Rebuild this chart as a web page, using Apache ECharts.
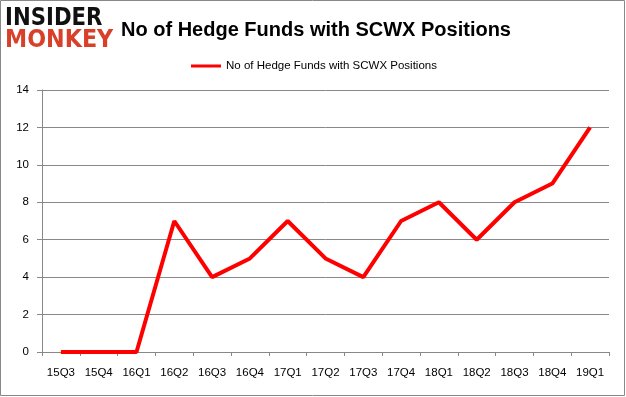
<!DOCTYPE html>
<html><head><meta charset="utf-8">
<script src="https://cdn.jsdelivr.net/npm/echarts@6/dist/echarts.min.js"></script>
<style>html,body{margin:0;padding:0;background:#fff}#c{width:626px;height:397px}</style>
</head><body><div id="c"></div>
<script>
const categories = ['15Q3','15Q4','16Q1','16Q2','16Q3','16Q4','17Q1','17Q2','17Q3','17Q4','18Q1','18Q2','18Q3','18Q4','19Q1'];
const hedgeFunds = [0,0,0,7,4,5,7,5,4,7,8,6,8,9,12];
const seriesName = 'No of Hedge Funds with SCWX Positions';
const titleText = 'No of Hedge Funds with SCWX Positions';

const chart = echarts.init(document.getElementById('c'), null, {renderer:'canvas'});
const font = 'Liberation Sans';
chart.setOption({
  animation:false,
  backgroundColor:'#fff',
  title:{text:titleText, left:116, top:15, textStyle:{fontFamily:font, fontSize:20, fontWeight:'bold', color:'#000'}},
  legend:{top:55, left:186, itemWidth:30, itemHeight:3, itemGap:5, icon:'rect',
    textStyle:{fontFamily:font, fontSize:11.5, color:'#000'}, data:[seriesName]},
  grid:{left:42, right:17, top:90, bottom:45, containLabel:false},
  xAxis:{type:'category', data:categories, boundaryGap:true,
    axisLine:{lineStyle:{color:'#888', width:1}},
    axisTick:{show:true, length:4, lineStyle:{color:'#888'}},
    axisLabel:{fontFamily:font, fontSize:11.5, color:'#000', margin:15}},
  yAxis:{type:'value', min:0, max:14, interval:2,
    axisLine:{show:true, lineStyle:{color:'#888'}},
    axisTick:{show:true, length:5, lineStyle:{color:'#888'}},
    splitLine:{lineStyle:{color:'#888', width:1}},
    axisLabel:{fontFamily:font, fontSize:11.5, color:'#000', margin:13}},
  series:[{name:seriesName, type:'line', data:hedgeFunds, showSymbol:false, symbol:'none',
    lineStyle:{color:'#ff0000', width:4}, itemStyle:{color:'#ff0000'}}],
  graphic:[
    {type:'rect', shape:{x:0.5,y:0.5,width:624,height:395}, style:{fill:null, stroke:'#888', lineWidth:1}, silent:true},
    {type:'text', x:5, y:6, scaleX:0.85, style:{text:'INSIDER', fontFamily:'DejaVu Sans', fontWeight:'bold', fontSize:25, fill:'#111'}},
    {type:'text', x:5, y:28, scaleX:0.89, style:{text:'MONKEY', fontFamily:'DejaVu Sans', fontWeight:'bold', fontSize:25, fill:'#d9402a'}}
  ]
});
</script></body></html>
